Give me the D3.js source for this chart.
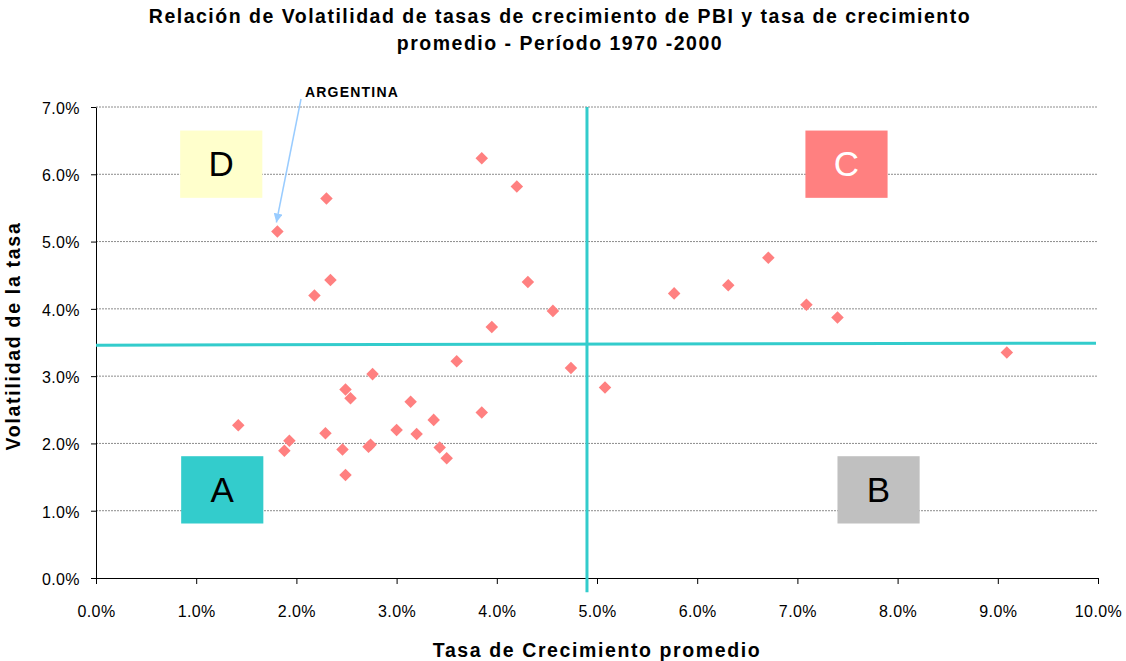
<!DOCTYPE html>
<html>
<head>
<meta charset="utf-8">
<script src="https://cdn.jsdelivr.net/npm/d3@7"></script>
<style>
  body { margin: 0; background: #fff; }
  text { font-family: Arial, "Liberation Sans", sans-serif; }
</style>
</head>
<body>
<div id="chart"></div>
<script>
// average growth rate (%) and volatility (%) per country, 1970-2000
const growth = [1.42, 1.93, 1.88, 2.29, 2.46, 2.49, 2.49, 2.54, 2.76, 2.72, 2.74, 3.00, 3.14, 3.20,
                3.37, 3.43, 3.50, 3.60, 3.85, 3.85, 2.30, 1.81, 2.34, 2.18, 3.95, 4.20, 4.31, 4.56,
                4.74, 5.08, 5.77, 6.31, 6.71, 7.09, 7.40, 9.09]
const volatility = [2.27, 2.04, 1.89, 2.15, 1.91, 1.53, 2.80, 2.67, 3.03, 1.95, 1.98, 2.20, 2.62, 2.14,
                    2.35, 1.94, 1.78, 3.22, 2.46, 6.24, 5.64, 5.15, 4.43, 4.20, 3.73, 5.82, 4.40, 3.97,
                    3.12, 2.83, 4.23, 4.35, 4.76, 4.06, 3.87, 3.35]

const xTicks = [0, 1, 2, 3, 4, 5, 6, 7, 8, 9, 10]
const yTicks = [0, 1, 2, 3, 4, 5, 6, 7]

// quadrant dividing lines (in % units)
const meanGrowth = 4.90
const hLine = [[0, 3.46], [9.98, 3.49]]
const vLine = [[meanGrowth, 7.0], [meanGrowth, -0.21]]

// quadrant labels
const quadNames = ["D", "C", "A", "B"]
const quadX = [0.84, 7.08, 0.85, 7.40]
const quadY = [6.65, 6.65, 1.81, 1.81]
const quadFill = ["#FFFFCC", "#FF8080", "#33CCCC", "#C0C0C0"]
const quadText = ["#000", "#fff", "#000", "#000"]

const argentina = { x: 1.81, y: 5.15 }

const width = 1126
const height = 661
const margin = { left: 96, right: 28, top: 107, bottom: 83 }

const xScale = d3.scaleLinear().domain([0, 10]).range([margin.left, width - margin.right])
const yScale = d3.scaleLinear().domain([0, 7]).range([height - margin.bottom, margin.top])

const svg = d3.select("#chart")
  .append("svg")
  .attr("width", width)
  .attr("height", height)

// title
svg.append("text")
  .attr("x", 560).attr("y", 23)
  .attr("text-anchor", "middle")
  .attr("font-size", 19.5).attr("font-weight", "bold")
  .attr("letter-spacing", 1.5)
  .text("Relación de Volatilidad de tasas de crecimiento de PBI y tasa de crecimiento")
svg.append("text")
  .attr("x", 560).attr("y", 50)
  .attr("text-anchor", "middle")
  .attr("font-size", 19.5).attr("font-weight", "bold")
  .attr("letter-spacing", 1.5)
  .text("promedio - Período 1970 -2000")

// gridlines
svg.append("g")
  .selectAll("line")
  .data(yTicks.slice(1))
  .join("line")
  .attr("x1", xScale(0)).attr("x2", xScale(10))
  .attr("y1", d => yScale(d)).attr("y2", d => yScale(d))
  .attr("stroke", "#8c8c8c")
  .attr("stroke-width", 1)
  .attr("stroke-dasharray", "2,1")

// axes
const xAxis = d3.axisBottom(xScale)
  .tickValues(xTicks)
  .tickFormat(d => d.toFixed(1) + "%")
  .tickSize(6)
  .tickSizeOuter(0)

const gx = svg.append("g")
  .attr("transform", "translate(0," + yScale(0) + ")")
  .call(xAxis)
gx.selectAll("text").attr("font-size", 16).attr("y", 0).attr("dy", 39).attr("fill", "#000")
  .attr("letter-spacing", 0.4)
  .attr("font-family", "Arial, 'Liberation Sans', sans-serif")
gx.select(".domain").attr("stroke", "#000")

const yAxis = d3.axisLeft(yScale)
  .tickValues(yTicks)
  .tickFormat(d => d.toFixed(1) + "%")
  .tickSize(5)
  .tickSizeOuter(0)

const gy = svg.append("g")
  .attr("transform", "translate(" + xScale(0) + ",0)")
  .call(yAxis)
gy.selectAll("text").attr("font-size", 16).attr("x", -16).attr("dy", "0.4em").attr("fill", "#000")
  .attr("letter-spacing", 0.4)
  .attr("font-family", "Arial, 'Liberation Sans', sans-serif")
gy.select(".domain").attr("stroke", "#000")

// axis titles
svg.append("text")
  .attr("x", 597).attr("y", 657)
  .attr("text-anchor", "middle")
  .attr("font-size", 19.5).attr("font-weight", "bold")
  .attr("letter-spacing", 1.6)
  .text("Tasa de Crecimiento promedio")
svg.append("text")
  .attr("transform", "translate(20," + 336 + ") rotate(-90)")
  .attr("text-anchor", "middle")
  .attr("font-size", 19.5).attr("font-weight", "bold")
  .attr("letter-spacing", 1.7)
  .text("Volatilidad de la tasa")

// quadrant lines
const line = d3.line().x(d => xScale(d[0])).y(d => yScale(d[1]))
svg.append("path").attr("d", line(hLine))
  .attr("stroke", "#33CCCC").attr("stroke-width", 3).attr("fill", "none")
svg.append("path").attr("d", line(vLine))
  .attr("stroke", "#33CCCC").attr("stroke-width", 3).attr("fill", "none")

// quadrant boxes
const boxW = xScale(0.82) - xScale(0)
const boxH = yScale(0) - yScale(1.0)
const quads = svg.append("g")
  .selectAll("g")
  .data(quadNames)
  .join("g")
  .attr("transform", (d, i) => "translate(" + xScale(quadX[i]) + "," + yScale(quadY[i]) + ")")
quads.append("rect")
  .attr("width", boxW).attr("height", boxH)
  .attr("fill", (d, i) => quadFill[i])
quads.append("text")
  .attr("x", boxW / 2).attr("y", boxH / 2 + 12)
  .attr("text-anchor", "middle")
  .attr("font-size", 35)
  .attr("font-family", "Arial, 'Liberation Sans', sans-serif")
  .attr("fill", (d, i) => quadText[i])
  .text(d => d)

// points
const points = growth.map((g, i) => ({ x: g, y: volatility[i] }))
svg.append("g")
  .selectAll("path")
  .data(points)
  .join("path")
  .attr("d", d3.symbol().type(d3.symbolDiamond2).size(100))
  .attr("transform", d => "translate(" + xScale(d.x) + "," + yScale(d.y) + ")")
  .attr("fill", "#FF8080")

// Argentina annotation
svg.append("defs").append("marker")
  .attr("id", "arrow")
  .attr("viewBox", "0 0 10 10")
  .attr("refX", 10).attr("refY", 5)
  .attr("markerWidth", 6).attr("markerHeight", 6)
  .attr("orient", "auto")
  .append("path")
  .attr("d", "M0,0 L10,5 L0,10 z")
  .attr("fill", "#99CCFF")

svg.append("line")
  .attr("x1", 301).attr("y1", 99)
  .attr("x2", xScale(argentina.x) - 1).attr("y2", yScale(argentina.y) - 9)
  .attr("stroke", "#99CCFF").attr("stroke-width", 1.5)
  .attr("marker-end", "url(#arrow)")

svg.append("text")
  .attr("x", 352).attr("y", 97)
  .attr("text-anchor", "middle")
  .attr("font-size", 14).attr("font-weight", "bold")
  .attr("letter-spacing", 1.2)
  .text("ARGENTINA")
</script>
</body>
</html>
